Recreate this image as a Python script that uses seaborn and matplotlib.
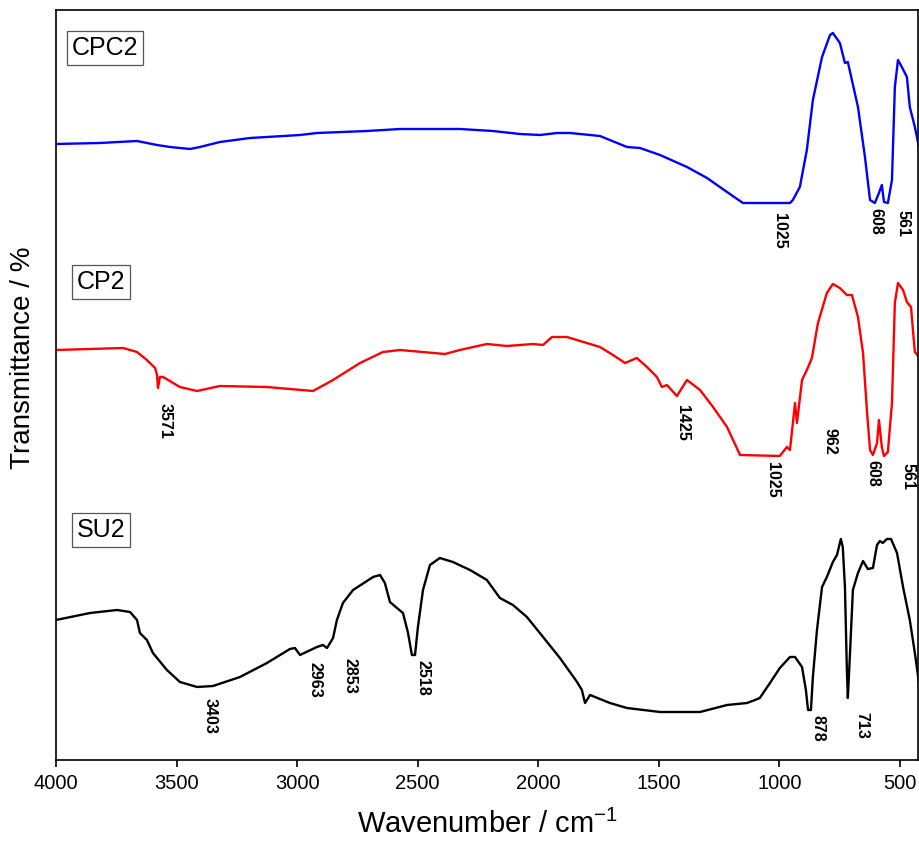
import matplotlib
matplotlib.use("Agg")
import matplotlib.pyplot as plt
import seaborn as sns
import pandas as pd

# ---- data (wavenumber in cm-1, transmittance in arbitrary offset units) ----
cpc2_wn = [4000, 3818, 3664, 3581, 3527, 3444, 3403, 3320, 3195, 2988, 2918, 2710,
           2573, 2325, 2188, 2076, 1993, 1922, 1868, 1744, 1632, 1578, 1495, 1383,
           1300, 1217, 1151, 956, 944, 915, 886, 861, 823, 790, 778, 749, 728, 716,
           674, 645, 624, 604, 587, 575, 566, 550, 533, 521, 508, 492, 471, 459,
           438, 421]
cpc2_t = [616, 617, 619, 615, 613, 611, 613, 618, 622, 625, 627, 629,
          631, 631, 629, 626, 625, 627, 627, 624, 613, 612, 605, 593,
          582, 568, 557, 557, 560, 573, 610, 660, 703, 725, 727, 717, 697, 698,
          653, 603, 560, 557, 567, 575, 558, 557, 580, 673, 700, 693, 683, 653,
          633, 613]

cp2_wn = [4000, 3722, 3664, 3623, 3589, 3581, 3577, 3569, 3556, 3486, 3415, 3320,
          3125, 2934, 2851, 2739, 2644, 2573, 2387, 2325, 2213, 2130, 2022, 1980,
          1943, 1881, 1744, 1690, 1640, 1591, 1549, 1508, 1487, 1466, 1425, 1383,
          1329, 1275, 1217, 1163, 998, 969, 956, 935, 927, 906, 886, 865, 840, 803,
          778, 749, 720, 699, 674, 653, 637, 624, 612, 595, 587, 575, 566, 550, 533,
          521, 508, 487, 471, 454, 446, 438, 421]
cp2_t = [410, 412, 408, 400, 392, 385, 372, 383, 383, 373, 369, 374,
         373, 369, 380, 397, 408, 410, 406, 410, 416, 414, 416, 415,
         423, 423, 413, 405, 397, 402, 393, 383, 373, 375, 364, 380,
         370, 353, 333, 305, 304, 313, 310, 357, 337, 380, 390, 402, 437, 467,
         476, 472, 465, 465, 443, 407, 350, 310, 305, 317, 340, 313, 304, 308, 357,
         457, 477, 470, 458, 453, 430, 408, 403]

su2_wn = [4000, 3859, 3747, 3693, 3664, 3652, 3623, 3598, 3540, 3486, 3415, 3349,
          3237, 3125, 3030, 3009, 2988, 2918, 2893, 2876, 2851, 2835, 2810, 2768,
          2685, 2656, 2636, 2615, 2586, 2561, 2540, 2524, 2511, 2499, 2478, 2449,
          2408, 2354, 2283, 2213, 2159, 2105, 2047, 1980, 1910, 1839, 1819, 1806,
          1785, 1703, 1632, 1495, 1329, 1217, 1134, 1101, 1081, 1039, 998, 956,
          935, 906, 890, 881, 869, 861, 844, 823, 803, 778, 761, 745, 737, 728,
          720, 716, 707, 695, 674, 653, 633, 612, 595, 583, 571, 554, 537, 512,
          487, 459, 438, 421]
su2_t = [140, 147, 150, 148, 140, 127, 120, 107, 90, 78, 73, 74,
         83, 97, 111, 112, 105, 113, 115, 112, 122, 140, 157, 170,
         183, 185, 177, 158, 152, 147, 127, 105, 105, 133, 170, 195,
         202, 198, 190, 180, 162, 155, 143, 123, 102, 78, 70, 57,
         65, 57, 52, 48, 48, 55, 57, 60, 62, 77, 92, 103,
         103, 93, 70, 50, 50, 83, 130, 173, 183, 198, 205, 221, 213, 173,
         90, 62, 107, 170, 187, 199, 191, 192, 215, 219, 217, 221, 221, 207,
         173, 140, 107, 77]

sample_names = ["CPC2", "CP2", "SU2"]
sample_colors = ["#0000ff", "#ff0000", "#000000"]
name_pos_wn = [3797, 3813, 3813]
name_pos_t = [712, 478, 230]

peak_labels = ["1025", "608", "561",
               "3571", "1425", "1025", "962", "608", "561",
               "3403", "2963", "2853", "2518", "878", "713"]
peak_wn = [998, 599, 488,
           3548, 1400, 1027, 790, 612, 467,
           3361, 2926, 2781, 2478, 840, 658]
peak_t = [547, 552, 550,
          357, 355, 298, 332, 300, 297,
          62, 98, 102, 100, 45, 48]

x_ticks = [4000, 3500, 3000, 2500, 2000, 1500, 1000, 500]

# ---- plotting ----
sns.set_style("ticks")
plt.rcParams["font.family"] = ["Liberation Sans", "DejaVu Sans"]
plt.rcParams["mathtext.default"] = "regular"
plt.rcParams["text.color"] = "black"
plt.rcParams["axes.labelcolor"] = "black"
plt.rcParams["xtick.color"] = "black"
plt.rcParams["xtick.labelcolor"] = "black"

fig = plt.figure(figsize=(9.19, 8.41), dpi=100)
ax = fig.add_axes([56 / 919, 1 - 760 / 841, 862 / 919, 750 / 841])

series = [(cpc2_wn, cpc2_t), (cp2_wn, cp2_t), (su2_wn, su2_t)]
for (wn, t), name, col in zip(series, sample_names, sample_colors):
    df = pd.DataFrame({"wn": wn, "t": t})
    sns.lineplot(data=df, x="wn", y="t", color=col, linewidth=1.7, ax=ax,
                 estimator=None, sort=False)

for name, xw, yt in zip(sample_names, name_pos_wn, name_pos_t):
    ax.text(xw, yt, name, fontsize=18, ha="center", va="center", color="black",
            bbox=dict(boxstyle="square,pad=0.2", facecolor="white",
                      edgecolor="#555555", linewidth=0.9))

for lab, xw, yt in zip(peak_labels, peak_wn, peak_t):
    ax.text(xw, yt, lab, fontsize=11.5, fontweight="bold", rotation=270,
            ha="center", va="top", color="black")

ax.set_xlim(4000, 425)
ax.set_ylim(0, 750)
ax.set_xticks(x_ticks)
ax.set_yticks([])
ax.tick_params(axis="x", direction="out", length=5, width=1.2, labelsize=14.5,
               pad=5, colors="black")
for s in ax.spines.values():
    s.set_linewidth(1.2)
    s.set_color("black")
    s.set_visible(True)

ax.set_xlabel("Wavenumber / cm$^{-1}$", fontsize=21, labelpad=12, color="black")
ax.set_ylabel("Transmittance / %", fontsize=20, color="black")
ax.yaxis.set_label_coords(-0.023, 0.536)

fig.savefig("out.png", dpi=100)
